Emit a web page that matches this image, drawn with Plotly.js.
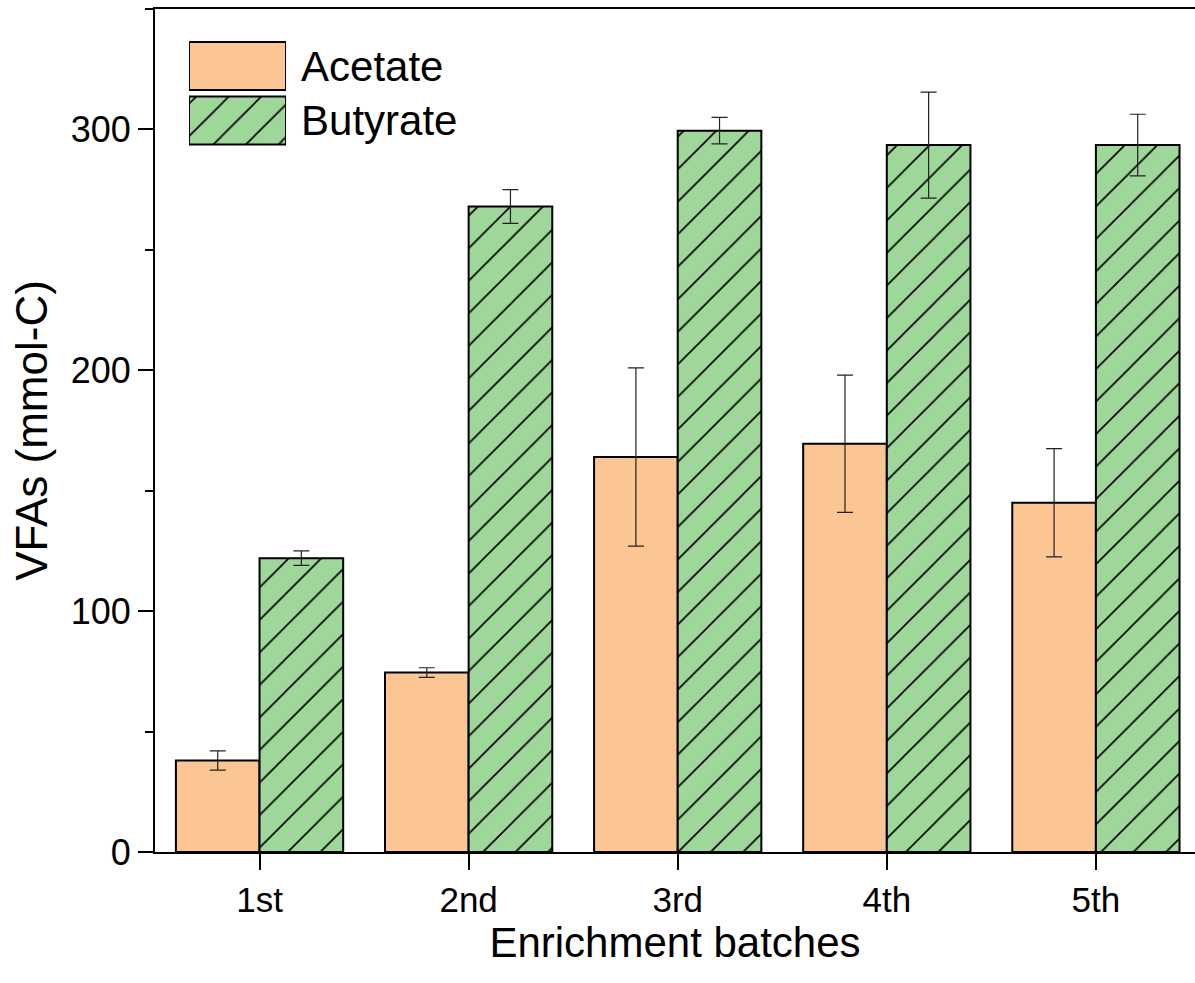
<!DOCTYPE html>
<html>
<head>
<meta charset="utf-8">
<script src="https://cdn.plot.ly/plotly-3.0.1.min.js"></script>
<style>html,body{margin:0;padding:0;background:#fff;}#chart{width:1195px;height:983px;}</style>
</head>
<body>
<div id="chart"></div>
<script>
// ---- data ----
const categories = ["1st", "2nd", "3rd", "4th", "5th"];
const acetate = [38, 74.5, 164, 169.5, 145];
const acetateErr = [4, 2, 37, 28.5, 22.5];
const butyrate = [122, 268, 299.5, 293.5, 293.5];
const butyrateErr = [3, 7, 5.5, 22, 12.8];
const seriesNames = ["Acetate", "Butyrate"];
const legendLen = [1];

const peach = "#FBC594";
const green = "#9FD79B";
const FONT = "Liberation Sans, Arial, sans-serif";

const errStyle = {type: "data", visible: true, color: "#222", thickness: 1.2, width: 8};
const hatch = {shape: "/", fgcolor: "#000", bgcolor: green, size: 23, solidity: 0.07};

const traces = [
  {
    type: "bar", name: seriesNames[0], x: categories, y: acetate,
    marker: {color: peach, line: {color: "#000", width: 2}},
    error_y: Object.assign({array: acetateErr}, errStyle),
    showlegend: false, hoverinfo: "skip"
  },
  {
    type: "bar", name: seriesNames[1], x: categories, y: butyrate,
    marker: {color: green, line: {color: "#000", width: 2}, pattern: hatch},
    error_y: Object.assign({array: butyrateErr}, errStyle),
    showlegend: false, hoverinfo: "skip"
  },
  // legend swatches (inset subplot)
  {
    type: "bar", orientation: "h", x: legendLen, y: [seriesNames[0]], xaxis: "x2", yaxis: "y2",
    width: 0.88, offset: -0.44,
    marker: {color: peach, line: {color: "#000", width: 2}},
    showlegend: false, hoverinfo: "skip"
  },
  {
    type: "bar", orientation: "h", x: legendLen, y: [seriesNames[1]], xaxis: "x2", yaxis: "y2",
    width: 0.88, offset: -0.44,
    marker: {color: green, line: {color: "#000", width: 2}, pattern: hatch},
    showlegend: false, hoverinfo: "skip"
  }
];

const layout = {
  width: 1195, height: 983,
  margin: {l: 155, r: 0, t: 9, b: 131},
  paper_bgcolor: "#fff", plot_bgcolor: "#fff",
  font: {family: FONT, color: "#000", size: 36},
  barmode: "group", bargap: 0.2, bargroupgap: 0,
  showlegend: false,
  xaxis: {
    type: "category", range: [-0.5, 4.474],
    showline: true, linecolor: "#000", linewidth: 2, mirror: true,
    ticks: "outside", ticklen: 16, tickwidth: 2, tickcolor: "#000",
    showgrid: false, zeroline: false,
    tickfont: {size: 35, family: FONT},
    title: {text: "Enrichment batches", font: {size: 42, family: FONT}, standoff: 10}
  },
  yaxis: {
    range: [0, 350],
    tickvals: [0, 100, 200, 300],
    showline: true, linecolor: "#000", linewidth: 2, mirror: false,
    ticks: "outside", ticklen: 15, tickwidth: 2, tickcolor: "#000",
    minor: {dtick: 50, ticks: "outside", ticklen: 8, tickwidth: 2, tickcolor: "#000", showgrid: false},
    showgrid: false, zeroline: false,
    tickfont: {size: 36, family: FONT},
    title: {text: "VFAs (mmol-C)", font: {size: 44, family: FONT}, standoff: 9}
  },
  xaxis2: {
    domain: [0.0327, 0.126], anchor: "y2", range: [0, 1],
    visible: false, fixedrange: true
  },
  yaxis2: {
    domain: [0.8354, 0.9647], anchor: "x2", side: "right",
    type: "category", categoryorder: "array", categoryarray: seriesNames, autorange: "reversed",
    showline: false, showgrid: false, zeroline: false, ticks: "",
    ticklabelstandoff: 14,
    tickfont: {size: 42, family: FONT}
  }
};

Plotly.newPlot("chart", traces, layout, {staticPlot: true, displayModeBar: false});
</script>
</body>
</html>
